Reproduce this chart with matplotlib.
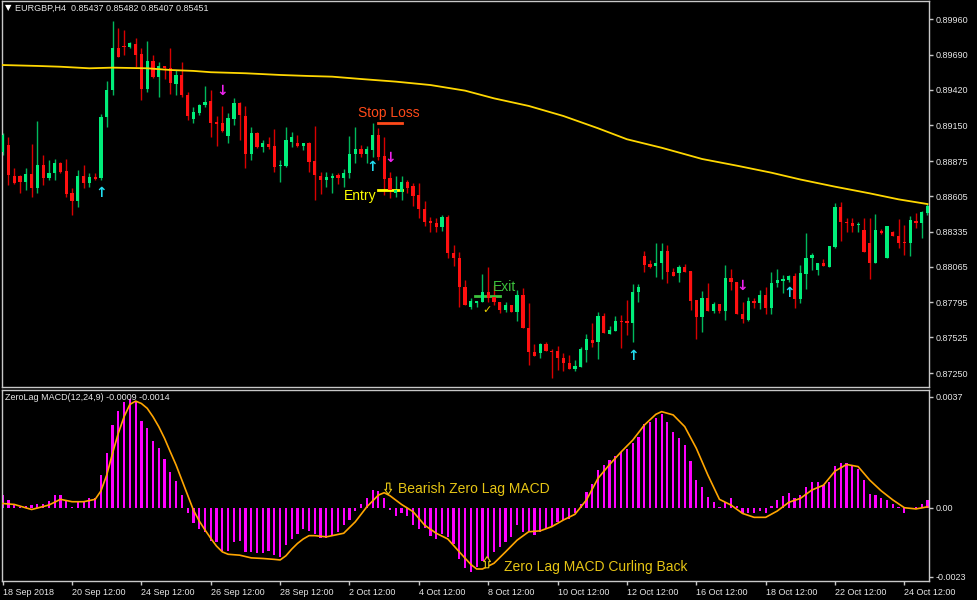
import matplotlib
matplotlib.use("Agg")
import matplotlib.pyplot as plt
import numpy as np

plt.rcParams["font.family"] = ["Liberation Sans", "DejaVu Sans"]

# EURGBP H4 candles
opens = [0.88944, 0.88998, 0.88761, 0.88761, 0.88715, 0.88776, 0.88669, 0.88845, 0.88745, 0.88784,
         0.88860, 0.88799, 0.88631, 0.88569, 0.88761, 0.88707, 0.88753, 0.88745, 0.89212, 0.89419,
         0.89741, 0.89756, 0.89748, 0.89771, 0.89695, 0.89427, 0.89641, 0.89519, 0.89603, 0.89587,
         0.89465, 0.89534, 0.89381, 0.89197, 0.89243, 0.89304, 0.89335, 0.89174, 0.89166, 0.89067,
         0.89197, 0.89320, 0.89220, 0.88929, 0.89090, 0.88983, 0.89006, 0.88990, 0.88837, 0.88837,
         0.89021, 0.89013, 0.88990, 0.89013, 0.88876, 0.88761, 0.88730, 0.88745, 0.88768, 0.88745,
         0.88784, 0.88929, 0.88967, 0.88929, 0.88960, 0.89075, 0.88914, 0.88745, 0.88631, 0.88638,
         0.88715, 0.88684, 0.88615, 0.88508, 0.88416, 0.88401, 0.88370, 0.88447, 0.88171, 0.88133,
         0.87911, 0.87758, 0.87789, 0.87796, 0.87873, 0.87834, 0.87796, 0.87735, 0.87773, 0.87720,
         0.87850, 0.87597, 0.87413, 0.87406, 0.87475, 0.87421, 0.87421, 0.87367, 0.87329, 0.87283,
         0.87299, 0.87429, 0.87506, 0.87490, 0.87689, 0.87551, 0.87574, 0.87651, 0.87651, 0.87635,
         0.87873, 0.88148, 0.88087, 0.88072, 0.88095, 0.88187, 0.88026, 0.88018, 0.88064, 0.88033,
         0.87811, 0.87681, 0.87827, 0.87727, 0.87781, 0.87727, 0.87980, 0.87949, 0.87704, 0.87658,
         0.87804, 0.87789, 0.87850, 0.87750, 0.87941, 0.87957, 0.87964, 0.87995, 0.87819, 0.88010,
         0.88133, 0.88041, 0.88095, 0.88064, 0.88217, 0.88523, 0.88409, 0.88401, 0.88386, 0.88347,
         0.88248, 0.88095, 0.88340, 0.88133, 0.88332, 0.88301, 0.88255, 0.88248, 0.88416, 0.88401,
         0.88478]
highs = [0.89090, 0.89059, 0.88822, 0.88768, 0.88822, 0.89006, 0.89182, 0.88921, 0.88883, 0.88891,
         0.88868, 0.88891, 0.88669, 0.88807, 0.88845, 0.88784, 0.88784, 0.89235, 0.89488, 0.89947,
         0.89894, 0.89878, 0.89787, 0.89817, 0.89741, 0.89794, 0.89687, 0.89633, 0.89603, 0.89741,
         0.89572, 0.89633, 0.89404, 0.89289, 0.89312, 0.89450, 0.89419, 0.89220, 0.89297, 0.89243,
         0.89358, 0.89327, 0.89297, 0.89136, 0.89098, 0.89036, 0.89059, 0.89121, 0.88883, 0.89136,
         0.89098, 0.89075, 0.89013, 0.89021, 0.89143, 0.88791, 0.88791, 0.88784, 0.88784, 0.88814,
         0.89067, 0.89136, 0.88998, 0.88990, 0.89166, 0.89128, 0.89059, 0.88791, 0.88761, 0.88761,
         0.88730, 0.88707, 0.88707, 0.88569, 0.88447, 0.88439, 0.88462, 0.88462, 0.88232, 0.88179,
         0.87964, 0.87827, 0.87804, 0.88010, 0.88064, 0.87926, 0.87796, 0.87796, 0.87773, 0.87888,
         0.87903, 0.87789, 0.87475, 0.87482, 0.87490, 0.87436, 0.87459, 0.87406, 0.87390, 0.87352,
         0.87452, 0.87551, 0.87635, 0.87720, 0.87712, 0.87612, 0.87689, 0.87697, 0.87811, 0.87934,
         0.87934, 0.88187, 0.88118, 0.88248, 0.88248, 0.88232, 0.88056, 0.88079, 0.88087, 0.88033,
         0.87811, 0.87880, 0.87941, 0.87796, 0.87781, 0.88079, 0.88049, 0.87949, 0.87796, 0.87834,
         0.87827, 0.87888, 0.87911, 0.88026, 0.88049, 0.88003, 0.88003, 0.88018, 0.88079, 0.88324,
         0.88171, 0.88095, 0.88125, 0.88225, 0.88554, 0.88562, 0.88439, 0.88439, 0.88409, 0.88439,
         0.88439, 0.88470, 0.88355, 0.88378, 0.88340, 0.88432, 0.88386, 0.88455, 0.88478, 0.88493,
         0.88546]
lows = [0.88921, 0.88692, 0.88699, 0.88631, 0.88653, 0.88600, 0.88631, 0.88692, 0.88730, 0.88730,
        0.88784, 0.88600, 0.88462, 0.88523, 0.88669, 0.88676, 0.88730, 0.88730, 0.89136, 0.89381,
        0.89672, 0.89687, 0.89741, 0.89595, 0.89343, 0.89404, 0.89511, 0.89365, 0.89503, 0.89388,
        0.89381, 0.89365, 0.89189, 0.89166, 0.89228, 0.89289, 0.89059, 0.88990, 0.89098, 0.89013,
        0.89151, 0.89036, 0.88822, 0.88883, 0.88975, 0.88944, 0.88967, 0.88791, 0.88715, 0.88830,
        0.88983, 0.88983, 0.88960, 0.88791, 0.88577, 0.88623, 0.88676, 0.88631, 0.88699, 0.88676,
        0.88745, 0.88860, 0.88906, 0.88860, 0.88906, 0.88883, 0.88615, 0.88592, 0.88600, 0.88577,
        0.88631, 0.88531, 0.88439, 0.88378, 0.88332, 0.88332, 0.88340, 0.88133, 0.88072, 0.87758,
        0.87773, 0.87743, 0.87758, 0.87796, 0.87796, 0.87773, 0.87712, 0.87720, 0.87720, 0.87651,
        0.87597, 0.87314, 0.87383, 0.87367, 0.87421, 0.87214, 0.87276, 0.87268, 0.87283, 0.87268,
        0.87299, 0.87337, 0.87452, 0.87360, 0.87559, 0.87551, 0.87574, 0.87444, 0.87544, 0.87490,
        0.87796, 0.88026, 0.88056, 0.87987, 0.87972, 0.87941, 0.87995, 0.87949, 0.88026, 0.87735,
        0.87513, 0.87566, 0.87727, 0.87712, 0.87712, 0.87658, 0.87888, 0.87704, 0.87635, 0.87651,
        0.87750, 0.87743, 0.87704, 0.87704, 0.87911, 0.87865, 0.87949, 0.87750, 0.87789, 0.87896,
        0.88041, 0.88003, 0.88072, 0.88064, 0.88210, 0.88263, 0.88332, 0.88332, 0.88332, 0.88179,
        0.87972, 0.88095, 0.88317, 0.88133, 0.88301, 0.88210, 0.88156, 0.88148, 0.88363, 0.88286,
        0.88462]
closes = [0.89075, 0.88768, 0.88707, 0.88715, 0.88776, 0.88669, 0.88845, 0.88745, 0.88784, 0.88860,
          0.88791, 0.88623, 0.88569, 0.88761, 0.88707, 0.88753, 0.88738, 0.89212, 0.89419, 0.89741,
          0.89672, 0.89748, 0.89779, 0.89687, 0.89427, 0.89641, 0.89519, 0.89603, 0.89587, 0.89473,
          0.89534, 0.89381, 0.89220, 0.89251, 0.89304, 0.89327, 0.89166, 0.89159, 0.89105, 0.89205,
          0.89320, 0.89228, 0.88929, 0.89090, 0.88983, 0.89013, 0.88983, 0.88830, 0.88845, 0.89036,
          0.89059, 0.88990, 0.89013, 0.88868, 0.88768, 0.88730, 0.88753, 0.88761, 0.88745, 0.88784,
          0.88929, 0.88967, 0.88929, 0.88967, 0.89075, 0.88906, 0.88738, 0.88653, 0.88653, 0.88715,
          0.88669, 0.88608, 0.88508, 0.88409, 0.88401, 0.88370, 0.88447, 0.88171, 0.88133, 0.87911,
          0.87773, 0.87804, 0.87804, 0.87873, 0.87827, 0.87796, 0.87735, 0.87773, 0.87720, 0.87850,
          0.87597, 0.87413, 0.87383, 0.87475, 0.87421, 0.87413, 0.87367, 0.87329, 0.87283, 0.87307,
          0.87436, 0.87513, 0.87482, 0.87689, 0.87559, 0.87582, 0.87651, 0.87643, 0.87635, 0.87873,
          0.87911, 0.88079, 0.88064, 0.88095, 0.88187, 0.88026, 0.87995, 0.88064, 0.88026, 0.87804,
          0.87681, 0.87827, 0.87727, 0.87781, 0.87727, 0.87980, 0.87949, 0.87704, 0.87666, 0.87804,
          0.87789, 0.87850, 0.87750, 0.87941, 0.87964, 0.87972, 0.87995, 0.87819, 0.88018, 0.88133,
          0.88156, 0.88095, 0.88072, 0.88225, 0.88523, 0.88409, 0.88401, 0.88378, 0.88393, 0.88179,
          0.88095, 0.88347, 0.88324, 0.88378, 0.88301, 0.88248, 0.88248, 0.88424, 0.88401, 0.88485,
          0.88531]

# yellow moving average (bar index, price)
ma_idx = [0, 6, 10, 15, 19, 25, 29, 33, 36, 42, 48, 53, 57, 62, 68, 74, 80, 85, 91, 97,
          103, 108, 114, 121, 127, 133, 138, 144, 150, 155, 160]
ma_val = [0.89610, 0.89603, 0.89597, 0.89585, 0.89590, 0.89585, 0.89572, 0.89565, 0.89555, 0.89547,
          0.89534, 0.89526, 0.89521, 0.89503, 0.89483, 0.89457, 0.89414, 0.89355, 0.89297, 0.89220,
          0.89126, 0.89042, 0.88977, 0.88891, 0.88840, 0.88786, 0.88734, 0.88679, 0.88628, 0.88582,
          0.88546]

# signal arrows
up_idx = [17, 64, 109, 136]
up_price = [0.88631, 0.88830, 0.87383, 0.87865]
down_idx = [38, 67, 128]
down_price = [0.89411, 0.88899, 0.87919]

# ZeroLag MACD histogram and signal line
macd_hist = [0.00042, 0.00026, 0.00011, 0.00003, 0.00006, 0.00008, 0.00014, 0.00014, 0.00022, 0.00042,
             0.00042, 0.00026, 0.00003, 0.00022, 0.00022, 0.00031, 0.00031, 0.00109, 0.00181, 0.00275,
             0.00322, 0.00351, 0.00362, 0.00353, 0.00289, 0.00264, 0.00222, 0.00198, 0.00162, 0.00120,
             0.00090, 0.00042, -0.00016, -0.00052, -0.00071, -0.00080, -0.00111, -0.00113, -0.00143, -0.00144,
             -0.00115, -0.00111, -0.00147, -0.00147, -0.00150, -0.00150, -0.00144, -0.00158, -0.00165, -0.00124,
             -0.00104, -0.00088, -0.00071, -0.00078, -0.00089, -0.00102, -0.00102, -0.00091, -0.00080, -0.00058,
             -0.00041, -0.00011, 0.00012, 0.00033, 0.00059, 0.00056, 0.00031, -0.00008, -0.00027, -0.00016,
             -0.00028, -0.00056, -0.00071, -0.00069, -0.00093, -0.00104, -0.00089, -0.00097, -0.00122, -0.00171,
             -0.00200, -0.00213, -0.00196, -0.00178, -0.00169, -0.00147, -0.00130, -0.00113, -0.00097, -0.00058,
             -0.00080, -0.00080, -0.00091, -0.00080, -0.00071, -0.00063, -0.00047, -0.00041, -0.00036, -0.00019,
             0.00011, 0.00051, 0.00078, 0.00125, 0.00142, 0.00159, 0.00173, 0.00186, 0.00195, 0.00214,
             0.00236, 0.00278, 0.00286, 0.00300, 0.00311, 0.00284, 0.00253, 0.00233, 0.00209, 0.00155,
             0.00092, 0.00068, 0.00037, 0.00020, 0.00003, 0.00020, 0.00033, 0.00007, -0.00017, -0.00019,
             -0.00019, -0.00010, -0.00017, 0.00007, 0.00026, 0.00039, 0.00050, 0.00033, 0.00044, 0.00070,
             0.00084, 0.00084, 0.00075, 0.00087, 0.00139, 0.00150, 0.00150, 0.00142, 0.00128, 0.00092,
             0.00046, 0.00044, 0.00033, 0.00026, 0.00014, 0.00001, -0.00019, -0.00004, 0.00001, 0.00014,
             0.00026]
sig_idx = [0, 2, 5, 8, 10, 12, 14, 16, 17, 18, 19, 20, 21, 22, 23, 24, 25, 26, 27, 28,
           29, 30, 31, 32, 33, 34, 35, 36, 37, 38, 39, 41, 43, 45, 47, 48, 49, 50, 51, 52,
           53, 54, 56, 59, 61, 63, 65, 66, 67, 69, 71, 73, 75, 77, 79, 81, 82, 83, 85, 87,
           89, 91, 93, 95, 97, 99, 101, 103, 105, 107, 109, 111, 113, 114, 116, 118, 120, 122, 124, 126,
           128, 130, 132, 134, 136, 138, 140, 142, 144, 146, 148, 150, 152, 154, 156, 158, 160]
sig_val = [0.00014, 0.00011, -0.00006, 0.00009, 0.00028, 0.00020, 0.00020, 0.00028, 0.00056, 0.00109,
           0.00181, 0.00248, 0.00303, 0.00344, 0.00355, 0.00347, 0.00331, 0.00303, 0.00270, 0.00231,
           0.00186, 0.00142, 0.00092, 0.00042, -0.00008, -0.00044, -0.00074, -0.00102, -0.00128, -0.00147,
           -0.00155, -0.00158, -0.00167, -0.00169, -0.00172, -0.00174, -0.00160, -0.00138, -0.00119, -0.00104,
           -0.00093, -0.00093, -0.00097, -0.00085, -0.00047, 0.00003, 0.00042, 0.00050, 0.00040, 0.00011,
           -0.00013, -0.00058, -0.00085, -0.00104, -0.00147, -0.00189, -0.00204, -0.00204, -0.00185, -0.00147,
           -0.00108, -0.00080, -0.00077, -0.00063, -0.00041, -0.00022, 0.00026, 0.00098, 0.00144, 0.00186,
           0.00225, 0.00275, 0.00311, 0.00320, 0.00309, 0.00270, 0.00198, 0.00109, 0.00028, 0.00009,
           -0.00019, -0.00032, -0.00032, -0.00011, 0.00018, 0.00031, 0.00059, 0.00075, 0.00122, 0.00144,
           0.00137, 0.00092, 0.00056, 0.00026, 0.00000, -0.00004, 0.00003]

price_ticks = [0.89960, 0.89690, 0.89420, 0.89150, 0.88875, 0.88605, 0.88335, 0.88065, 0.87795, 0.87525, 0.87250]
macd_ticks = [0.0037, 0.0, -0.0023]
macd_tick_labels = ["0.0037", "0.00", "-0.0023"]
date_idx = [0, 12, 24, 36, 48, 60, 72, 84, 96, 108, 120, 132, 144, 156]
date_labels = ["18 Sep 2018", "20 Sep 12:00", "24 Sep 12:00", "26 Sep 12:00", "28 Sep 12:00",
               "2 Oct 12:00", "4 Oct 12:00", "8 Oct 12:00", "10 Oct 12:00", "12 Oct 12:00",
               "16 Oct 12:00", "18 Oct 12:00", "22 Oct 12:00", "24 Oct 12:00"]

BG = "black"
FRAME = "#C8C8C8"
TXT = "#E6E6E6"
BULL = "#00EE7A"
BEAR = "#FF1010"
GOLD = "#E6C515"

fig = plt.figure(figsize=(9.77, 6.0), dpi=100, facecolor=BG)
ax1 = fig.add_axes([2 / 977, 1 - 387 / 600, 927 / 977, 386 / 600], facecolor=BG)
ax2 = fig.add_axes([2 / 977, 1 - 581 / 600, 927 / 977, 191 / 600], facecolor=BG)

o = np.array(opens)
h = np.array(highs)
lo = np.array(lows)
c = np.array(closes)
x = np.arange(len(o))
up = c >= o

# candles
ax1.vlines(x, lo, h, colors=np.where(up, "#00B85C", "#D80000"), linewidth=1.0, zorder=2)
body_bottom = np.minimum(o, c)
body_height = np.maximum(np.abs(c - o), 0.00008)
ax1.bar(x, body_height, bottom=body_bottom, width=0.56,
        color=np.where(up, BULL, BEAR), linewidth=0, zorder=3)

ax1.plot(ma_idx, ma_val, color="#FFD700", linewidth=1.3, zorder=4)

for i, p in zip(up_idx, up_price):
    ax1.text(i, p, "↑", color="#22DDF0", fontsize=10, fontweight="bold",
             ha="center", va="center", family="DejaVu Sans", zorder=5)
for i, p in zip(down_idx, down_price):
    ax1.text(i, p, "↓", color="#EE22EE", fontsize=10, fontweight="bold",
             ha="center", va="center", family="DejaVu Sans", zorder=5)

# trade annotations
ax1.text(61.5, 0.89243, "Stop Loss", color="#FF4A1A", fontsize=10, ha="left", va="center")
ax1.plot([65, 69], [0.89169, 0.89169], color="#FF4A1A", linewidth=2)
ax1.text(59.0, 0.88608, "Entry", color="#FFFF00", fontsize=10, ha="left", va="center")
ax1.plot([65, 69], [0.88653, 0.88653], color="#FFFF00", linewidth=2)
ax1.text(84.8, 0.87911, "Exit", color="#3CC23C", fontsize=10, ha="left", va="center")
ax1.plot([81.7, 86.0], [0.87842, 0.87842], color="#3CC23C", linewidth=2)
ax1.text(83.8, 0.87735, "✓", color="#E8D000", fontsize=8, ha="center", va="center",
         family="DejaVu Sans")

ax1.text(0.003, 0.982, "▼", transform=ax1.transAxes, color="white", fontsize=6,
         ha="left", va="center", family="DejaVu Sans")
ax1.text(0.014, 0.982, "EURGBP,H4  0.85437 0.85482 0.85407 0.85451", transform=ax1.transAxes,
         color=TXT, fontsize=6.5, ha="left", va="center")

ax1.set_xlim(-0.12, 160.26)
ax1.set_ylim(0.87146, 0.90100)
ax1.set_xticks([])
ax1.set_yticks(price_ticks)
ax1.set_yticklabels([f"{v:.5f}" for v in price_ticks])

# MACD panel
ax2.bar(np.arange(len(macd_hist)), macd_hist, width=0.38, color="#FF00FF", linewidth=0, zorder=2)
ax2.plot(sig_idx, sig_val, color="#FFA500", linewidth=1.2, zorder=3)

# hollow arrows next to the MACD notes
hollow = dict(arrowstyle="simple,head_width=0.7,head_length=0.5,tail_width=0.35",
              fc="black", ec=GOLD, lw=0.8, mutation_scale=7,
              shrinkA=0, shrinkB=0)
ax2.annotate("", xy=(66.7, 0.00045), xytext=(66.7, 0.00082), arrowprops=hollow, zorder=5)
ax2.annotate("", xy=(83.8, -0.00163), xytext=(83.8, -0.00200), arrowprops=hollow, zorder=5)
ax2.text(68.4, 0.00062, "Bearish Zero Lag MACD", color=GOLD, fontsize=10,
         ha="left", va="center")
ax2.text(86.7, -0.00197, "Zero Lag MACD Curling Back", color=GOLD, fontsize=10,
         ha="left", va="center")
ax2.text(0.003, 0.963, "ZeroLag MACD(12,24,9) -0.0009 -0.0014", transform=ax2.transAxes,
         color=TXT, fontsize=6.5, ha="left", va="center")

ax2.set_xlim(-0.12, 160.26)
ax2.set_ylim(-0.00244, 0.00392)
ax2.set_yticks(macd_ticks)
ax2.set_yticklabels(macd_tick_labels)
ax2.set_xticks(date_idx)
ax2.set_xticklabels(date_labels, ha="left")

for ax in (ax1, ax2):
    for side in ("left", "top", "bottom", "right"):
        ax.spines[side].set_color(FRAME)
        ax.spines[side].set_linewidth(1)
    ax.yaxis.tick_right()
    ax.tick_params(axis="y", direction="out", length=3, width=1, color=FRAME,
                   labelcolor=TXT, labelsize=6.5, pad=2)
ax2.tick_params(axis="x", direction="out", length=3, width=1, color=FRAME,
                labelcolor=TXT, labelsize=6.5, pad=2)

fig.savefig("out.png", dpi=100, facecolor=BG)
plt.close(fig)
